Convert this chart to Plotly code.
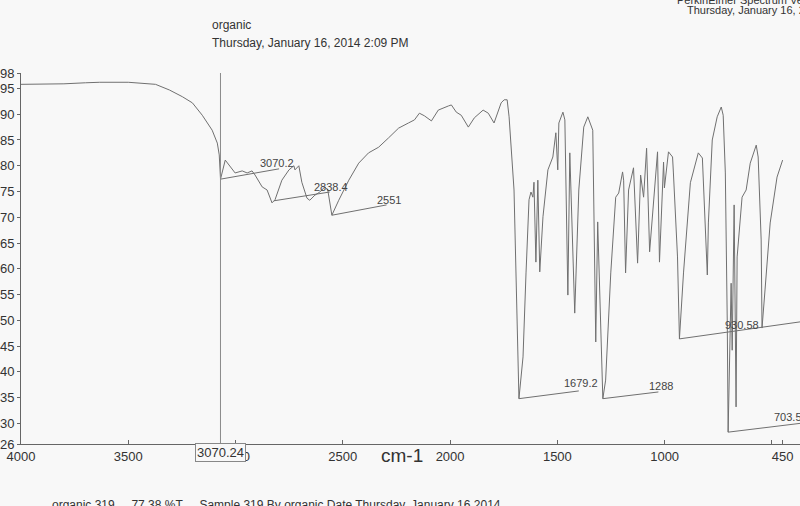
import plotly.graph_objects as go

# IR spectrum (wavenumber cm-1, %T)
wavenumber = [
    4000, 3900, 3800, 3700, 3633, 3500, 3434, 3373, 3308, 3248, 3201, 3155,
    3109, 3085, 3076, 3070, 3048, 3025, 3002, 2969, 2946, 2923, 2909, 2876,
    2853, 2830, 2816, 2784, 2751, 2728, 2723, 2705, 2691, 2667, 2654, 2630,
    2607, 2584, 2570, 2551, 2519, 2472, 2426, 2380, 2333, 2287, 2240, 2194,
    2166, 2143, 2120, 2087, 2055, 2008, 1994, 1971, 1948, 1915, 1887, 1846,
    1822, 1795, 1762, 1748, 1734, 1725, 1702, 1679, 1660, 1646, 1632, 1623,
    1614, 1609, 1600, 1591, 1582, 1567, 1544, 1521, 1507, 1498, 1493, 1474,
    1465, 1451, 1442, 1419, 1400, 1377, 1358, 1335, 1321, 1312, 1298, 1288,
    1275, 1251, 1228, 1214, 1196, 1191, 1182, 1168, 1145, 1126, 1112, 1098,
    1084, 1070, 1033, 1024, 1005, 1001, 982, 963, 959, 940, 931, 912,
    880, 861, 843, 824, 810, 801, 796, 778, 755, 736, 727, 717,
    708, 704, 690, 685, 676, 667, 662, 639, 620, 601, 573, 564,
    550, 546, 532, 508, 476, 450,
]
transmittance = [
    95.8, 95.8, 95.9, 96.1, 96.2, 96.2, 96.0, 95.8, 94.7, 93.4, 92.2, 89.8,
    86.9, 84.4, 82.1, 77.4, 81.1, 79.8, 78.6, 79.0, 78.6, 79.0, 78.2, 75.9,
    75.3, 72.8, 73.4, 77.2, 79.2, 80.0, 79.2, 80.0, 76.8, 73.7, 73.3, 74.3,
    74.9, 75.9, 75.3, 70.4, 73.3, 77.2, 80.5, 82.5, 83.6, 85.4, 87.3, 88.3,
    88.9, 90.2, 89.7, 88.7, 90.8, 91.6, 91.8, 90.4, 89.8, 87.5, 89.3, 90.8,
    90.2, 88.3, 92.2, 92.8, 92.8, 89.5, 75.3, 34.8, 42.9, 59.2, 73.4, 74.9,
    73.9, 76.8, 61.3, 77.2, 59.4, 70.1, 79.2, 81.7, 86.4, 79.2, 88.3, 90.4,
    88.9, 54.9, 82.5, 51.4, 75.3, 87.5, 89.5, 86.9, 45.8, 69.1, 49.5, 34.8,
    38.4, 59.2, 73.9, 74.7, 78.8, 77.2, 59.2, 75.3, 79.6, 61.1, 78.2, 73.9,
    83.4, 63.3, 82.7, 61.3, 80.7, 75.7, 82.7, 81.7, 78.6, 62.3, 46.4, 59.2,
    76.7, 79.6, 82.5, 81.5, 68.9, 58.8, 68.9, 85.0, 89.5, 91.4, 89.8, 78.6,
    49.5, 28.3, 57.2, 44.2, 72.4, 33.2, 62.3, 73.9, 75.3, 80.5, 84.0, 81.7,
    65.6, 48.5, 55.9, 68.9, 77.8, 81.1,
]

# peak picks: label, trough position, end of leader line, label position
peak_labels = ["3070.2", "2838.4", "2551", "1679.2", "1288", "930.58", "703.5"]
peak_wn = [3070, 2821, 2551, 1679, 1288, 931, 704]
peak_t = [77.4, 73.2, 70.4, 34.8, 34.8, 46.4, 28.3]
leader_wn = [2797, 2561, 2296, 1400, 1029, 369, 369]
leader_t = [79.4, 74.9, 72.4, 36.3, 36.1, 49.7, 30.0]
label_wn = [2806, 2556, 2287, 1391, 1019, 639, 425]
label_t = [80.5, 75.9, 73.4, 37.8, 37.2, 49.1, 31.2]

cursor_wn = 3070.24
x_ticks = [4000, 3500, 3000, 2500, 2000, 1500, 1000, 500, 450]
x_ticktext = ["4000", "3500", "3000", "2500", "2000", "1500", "1000", "", "450"]
y_ticks = [98, 95, 90, 85, 80, 75, 70, 65, 60, 55, 50, 45, 40, 35, 30, 26]

LINE = "#707070"
FONT = "Liberation Sans, Arial, sans-serif"

fig = go.Figure()

fig.add_trace(go.Scatter(
    x=wavenumber, y=transmittance, mode="lines",
    line=dict(color=LINE, width=1), showlegend=False, hoverinfo="skip",
))

# leader lines for the peak picks
for i in range(len(peak_labels)):
    fig.add_trace(go.Scatter(
        x=[peak_wn[i], leader_wn[i]], y=[peak_t[i], leader_t[i]], mode="lines",
        line=dict(color=LINE, width=1), showlegend=False, hoverinfo="skip",
    ))
    fig.add_annotation(
        x=label_wn[i], y=label_t[i], text=peak_labels[i], showarrow=False,
        font=dict(family=FONT, size=11, color="#444444"),
    )

# cursor line
fig.add_shape(type="line", xref="x", yref="paper", x0=cursor_wn, x1=cursor_wn,
              y0=0, y1=1, line=dict(color="#8a8a8a", width=1))
fig.add_annotation(
    x=cursor_wn, xref="x", y=0.002, yref="paper", yanchor="top",
    text="3070.24", showarrow=False, bgcolor="#f8f8f8",
    bordercolor="#888888", borderwidth=1, borderpad=1,
    font=dict(family=FONT, size=13, color="#333333"),
)

# header / footer text
texts = [
    (208, 25, "organic", 12, "left"),
    (208, 43, "Thursday, January 16, 2014 2:09 PM", 12, "left"),
    (675, 0, "PerkinElmer Spectrum Version 10.03.06", 11, "left"),
    (685, 10, "Thursday, January 16, 2014", 11, "left"),
    (47, 505, "organic 319     77.38 %T     Sample 319 By organic Date Thursday, January 16 2014", 12, "left"),
]
for px, py, t, sz, anchor in texts:
    fig.add_annotation(
        x=(px - 18) / 782, y=1 - (py - 73) / 371, xref="paper", yref="paper",
        xanchor=anchor, yanchor="middle", text=t.replace("  ", "&nbsp; "),
        showarrow=False, font=dict(family=FONT, size=sz, color="#333333"),
    )

fig.add_annotation(
    x=(400 - 18) / 782, y=1 - (468 - 73) / 371, xref="paper", yref="paper",
    text="cm-1", showarrow=False, font=dict(family=FONT, size=19, color="#333333"),
)

fig.update_xaxes(
    range=[4000, 369], tickvals=x_ticks, ticktext=x_ticktext,
    showgrid=False, zeroline=False, showline=True, linecolor="#666666",
    ticks="inside", ticklen=4, tickcolor="#666666",
    tickfont=dict(family=FONT, size=13, color="#333333"),
)
fig.update_yaxes(
    range=[26, 98], tickvals=y_ticks,
    showgrid=False, zeroline=False, showline=True, linecolor="#666666",
    ticks="outside", ticklen=3, tickcolor="#666666",
    tickfont=dict(family=FONT, size=13, color="#333333"),
)

fig.update_layout(
    width=800, height=506,
    margin=dict(l=18, r=0, t=73, b=62),
    paper_bgcolor="#f8f8f8", plot_bgcolor="#f8f8f8",
)

# drop the page's default body margin so the figure sits at the window corner
fig.write_html(
    "out.html",
    config={"displayModeBar": False},
    post_script="document.body.style.margin='0';document.body.style.padding='0';"
                "document.body.style.overflow='hidden';",
)
